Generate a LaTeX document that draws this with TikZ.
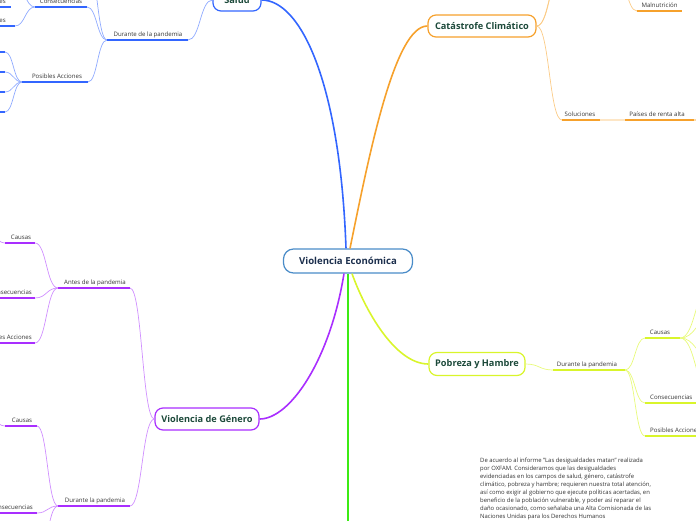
\documentclass[tikz,border=0pt]{standalone}
\usepackage{fontspec}
\setmainfont{Open Sans}
\usetikzlibrary{calc}
\definecolor{blueC}{HTML}{3366FF}
\definecolor{blueL}{HTML}{8FAAFF}
\definecolor{orangeC}{HTML}{F6A12C}
\definecolor{orangeL}{HTML}{FBCB86}
\definecolor{orangeXL}{HTML}{FDE6C6}
\definecolor{purpleC}{HTML}{A92EFF}
\definecolor{purpleL}{HTML}{D08FFF}
\definecolor{limeC}{HTML}{D9F52B}
\definecolor{limeL}{HTML}{E8FA7A}
\definecolor{greenC}{HTML}{3CEB14}
\definecolor{ecoC}{HTML}{4A8CC8}
\definecolor{nodeText}{HTML}{1D4A3B}
\definecolor{ecoText}{HTML}{1C2F4D}
\definecolor{lblText}{HTML}{333333}
\tikzset{
  sc/.style={to path={let \p1=(\tikztostart), \p2=(\tikztotarget) in
    .. controls ({0.5*\x1+0.5*\x2},\y1) and ({0.5*\x1+0.5*\x2},\y2) .. (\tikztotarget)}},
  bnode/.style={draw, rounded corners=8pt, line width=1.2pt, fill=white,
    font=\fontsize{9.2}{11}\selectfont\bfseries, text=nodeText,
    minimum height=22pt, inner sep=0pt},
  lbl/.style={font=\fontsize{6.1}{7}\selectfont, text=lblText, inner sep=0pt, anchor=base},
  ul/.style={line width=1.8pt},
  subc/.style={line width=0.7pt},
  mainc/.style={line width=1.6pt},
  para/.style={font=\fontsize{5.9}{8}\selectfont, text=lblText, inner sep=0pt, align=left}
}
\begin{document}
\begin{tikzpicture}[x=1pt,y=-1pt]
\useasboundingbox (0,0) rectangle (696,520);

% ---------- nodes ----------
\node[bnode, draw=ecoC, text=ecoText, fill=white, minimum width=129pt, minimum height=24pt,
      rounded corners=10pt, font=\fontsize{9.6}{11}\selectfont\bfseries] (eco) at (348,261) {Violencia Económica};
\node[bnode, draw=blueC, minimum width=48pt] (salud) at (237,0) {Salud};
\node[bnode, draw=orangeC, minimum width=108pt] (cat) at (482,26) {Catástrofe Climático};
\node[bnode, draw=purpleC, minimum width=104pt] (gen) at (207,419) {Violencia de Género};
\node[bnode, draw=limeC, minimum width=96pt, minimum height=23pt] (pob) at (477,364) {Pobreza y Hambre};

% ---------- main branches ----------
\draw[mainc, blueC] ([xshift=-2pt]eco.north) .. controls (340,80) and (300,0) .. (salud.east);
\draw[mainc, orangeC] ([xshift=2pt]eco.north) .. controls (370,150) and (395,26) .. (cat.west);
\draw[mainc, purpleC] ([xshift=-4pt]eco.south) .. controls (330,360) and (290,419) .. (gen.east);
\coordinate (gEnd) at (348,530);
\draw[mainc, greenC] (eco.south) -- (gEnd);
\draw[mainc, limeC] ([xshift=4pt]eco.south) .. controls (365,310) and (395,364) .. (pob.west);

% ---------- Salud ----------
\coordinate (bdpL) at (107,40); \coordinate (bdpR) at (188,40);
\node[lbl] (bdpT) at (148,36) {Durante de la pandemia};
\draw[subc, blueL] (salud.west) to[sc] (bdpR);
\coordinate (bcauR) at (87,-40);
\draw[subc, blueL] (bdpL) to[sc] (bcauR);
\coordinate (bconL) at (35,7); \coordinate (bconR) at (87,7);
\node[lbl] (bconT) at (61,3) {Consecuencias};
\draw[subc, blueL] (bdpL) to[sc] (bconR);
\coordinate (bpaL) at (22,82); \coordinate (bpaR) at (88,82);
\node[lbl] (bpaT) at (57,78) {Posibles Acciones};
\draw[subc, blueL] (bdpL) to[sc] (bpaR);
\coordinate (bc0R) at (15,-15);
\draw[subc, blueL] (bconL) to[sc] (bc0R);
\coordinate (bc1L) at (-30,7); \coordinate (bc1R) at (11,7);
\node[lbl, anchor=base east] (bc1T) at (6,3) {es};
\coordinate (bc2L) at (-30,26); \coordinate (bc2R) at (15,26);
\node[lbl, anchor=base east] (bc2T) at (6,22) {es};
\draw[subc, blueL] (bconL) to[sc] (bc2R);
\foreach \i/\yy in {1/52,2/72,3/92,4/112}{
  \coordinate (bp\i L) at (-30,\yy); \coordinate (bp\i R) at (5,\yy);
  \draw[subc, blueL] (bpaL) to[sc] (bp\i R);
  \draw[ul, blueC] (bp\i L) -- (bp\i R);
}
\draw[ul, blueC] (bdpL) -- (bdpR);
\draw[ul, blueC] (bconL) -- (bconR);
\draw[ul, blueC] (bpaL) -- (bpaR);
\draw[ul, blueC] (bc1L) -- (bc1R);
\draw[ul, blueC] (bc2L) -- (bc2R);

% ---------- Catastrofe ----------
\coordinate (oc1) at (560,-20); \coordinate (oc2) at (566,-45);
\draw[subc, orangeL] (cat.east) to[sc] (oc1);
\draw[subc, orangeL] (cat.east) to[sc] (oc2);
\coordinate (osolL) at (562,120); \coordinate (osolR) at (600,120);
\node[lbl] (osolT) at (580,116) {Soluciones};
\draw[subc, orangeL] (cat.east) to[sc] (osolL);
\coordinate (oprL) at (625,120); \coordinate (oprR) at (694,120);
\node[lbl] (oprT) at (657,116) {Países de renta alta};
\draw[ul, orangeXL] (osolR) -- (oprL);
\coordinate (opc1) at (712,106); \coordinate (opc2) at (712,134);
\draw[subc, orangeL] (oprR) to[sc] (opc1);
\draw[subc, orangeL] (oprR) to[sc] (opc2);
\coordinate (omalL) at (637,11); \coordinate (omalR) at (682,11);
\node[lbl] (omalT) at (659.5,7) {Malnutrición};
\coordinate (omalP) at (615,-30);
\draw[subc, orangeL] (omalP) to[sc] (omalL);
\draw[ul, orangeC] (osolL) -- (osolR);
\draw[ul, orangeC] (oprL) -- (oprR);
\draw[ul, orangeC] (omalL) -- (omalR);

% ---------- Genero ----------
\coordinate (padL) at (58,288); \coordinate (padR) at (130,288);
\node[lbl] (padT) at (95,284) {Antes de la pandemia};
\draw[subc, purpleL] (gen.west) to[sc] (padR);
\coordinate (pdlL) at (58,506); \coordinate (pdlR) at (130,506);
\node[lbl] (pdlT) at (95,502) {Durante la pandemia};
\draw[subc, purpleL] (gen.west) to[sc] (pdlR);
\coordinate (pcauL) at (5,243); \coordinate (pcauR) at (35,243);
\node[lbl] (pcauT) at (21,239) {Causas};
\draw[subc, purpleL] (padL) to[sc] (pcauR);
\coordinate (pcauC) at (-15,228);
\draw[subc, purpleL] (pcauL) to[sc] (pcauC);
\coordinate (pconL) at (-30,298); \coordinate (pconR) at (35,298);
\node[lbl, anchor=base east] (pconT) at (32,294) {Consecuencias};
\draw[subc, purpleL] (padL) to[sc] (pconR);
\coordinate (pposL) at (-40,343); \coordinate (pposR) at (35,343);
\node[lbl, anchor=base east] (pposT) at (32,339) {Posibles Acciones};
\draw[subc, purpleL] (padL) to[sc] (pposR);
\coordinate (pdcL) at (5,426); \coordinate (pdcR) at (37,426);
\node[lbl] (pdcT) at (22,422) {Causas};
\draw[subc, purpleL] (pdlL) to[sc] (pdcR);
\coordinate (pdcC) at (-15,412);
\draw[subc, purpleL] (pdcL) to[sc] (pdcC);
\coordinate (pdconL) at (-30,513); \coordinate (pdconR) at (37,513);
\node[lbl, anchor=base east] (pdconT) at (33,509) {Consecuencias};
\draw[subc, purpleL] (pdlL) to[sc] (pdconR);
\coordinate (pdposR) at (37,560);
\draw[subc, purpleL] (pdlL) to[sc] (pdposR);
\draw[ul, purpleC] (padL) -- (padR);
\draw[ul, purpleC] (pdlL) -- (pdlR);
\draw[ul, purpleC] (pcauL) -- (pcauR);
\draw[ul, purpleC] (pconL) -- (pconR);
\draw[ul, purpleC] (pposL) -- (pposR);
\draw[ul, purpleC] (pdcL) -- (pdcR);
\draw[ul, purpleC] (pdconL) -- (pdconR);

% ---------- Pobreza ----------
\coordinate (ydpL) at (553,370); \coordinate (ydpR) at (625,370);
\node[lbl] (ydpT) at (587,366) {Durante la pandemia};
\draw[subc, limeL] (pob.east) to[sc] (ydpL);
\coordinate (ycauL) at (645,338); \coordinate (ycauR) at (680,338);
\node[lbl] (ycauT) at (660,334) {Causas};
\coordinate (yconL) at (645,403); \coordinate (yconR) at (710,403);
\node[lbl, anchor=base west] (yconT) at (650,399) {Consecuencias};
\coordinate (yposL) at (645,436); \coordinate (yposR) at (720,436);
\node[lbl, anchor=base west] (yposT) at (650,432) {Posibles Acciones};
\draw[subc, limeL] (ydpR) to[sc] (ycauL);
\draw[subc, limeL] (ydpR) to[sc] (yconL);
\draw[subc, limeL] (ydpR) to[sc] (yposL);
\foreach \i/\yy in {1/282,2/318,3/358,4/396}{
  \coordinate (yc\i) at (712,\yy);
  \draw[subc, limeL] (ycauR) to[sc] (yc\i);
}
\draw[ul, limeC] (ydpL) -- (ydpR);
\draw[ul, limeC] (ycauL) -- (ycauR);
\draw[ul, limeC] (yconL) -- (yconR);
\draw[ul, limeC] (yposL) -- (yposR);

% ---------- text ----------
\node[para, anchor=north west] (txt) at (480,457.5) {De acuerdo al informe "Las desigualdades matan" realizada\\
por OXFAM. Consideramos que las desigualdades\\
evidenciadas en los campos de salud, género, catástrofe\\
climático, pobreza y hambre;  requieren nuestra total atención,\\
así como exigir al gobierno que ejecute políticas acertadas, en\\
beneficio de la población vulnerable, y poder así reparar el\\
daño ocasionado, como señalaba una Alta Comisionada de las\\
Naciones Unidas para los Derechos Humanos};
\end{tikzpicture}
\end{document}
